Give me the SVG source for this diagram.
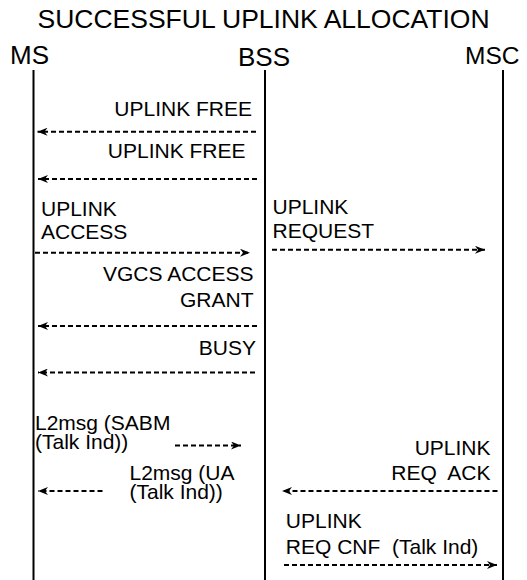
<svg xmlns="http://www.w3.org/2000/svg" width="527" height="580" viewBox="0 0 527 580">
<style>
text{font-family:"Liberation Sans",Arial,sans-serif;fill:#000;white-space:pre}
.t{font-size:26.5px}
.h{font-size:26px}
.l{font-size:21px}
.life{stroke:#000;stroke-width:2;fill:none}
.msg{stroke:#000;stroke-width:2;stroke-dasharray:5 3;fill:none;marker-end:url(#ah)}
</style>
<defs>
<marker id="ah" viewBox="0 0 10 8" refX="10" refY="4" markerWidth="10" markerHeight="8" markerUnits="userSpaceOnUse" orient="auto">
<path d="M0,0 L10,4 L0,8 L3,4 Z" fill="#000"/>
</marker>
</defs>
<rect width="527" height="580" fill="#fff"/>
<text class="t" x="263.5" y="27.5" text-anchor="middle">SUCCESSFUL UPLINK ALLOCATION</text>
<g id="node-ms">
<text class="h" x="10" y="64">MS</text>
<line class="life" x1="33.5" y1="70" x2="33.5" y2="580"/>
</g>
<g id="node-bss">
<text class="h" x="238" y="66">BSS</text>
<line class="life" x1="265" y1="70" x2="265" y2="580"/>
</g>
<g id="node-msc">
<text class="h" x="465" y="64" style="font-size:24.5px">MSC</text>
<line class="life" x1="503" y1="70" x2="503" y2="580"/>
</g>
<g id="connectors">
<line class="msg" x1="256" y1="131.7" x2="37.5" y2="131.7"/>
<line class="msg" x1="257" y1="179" x2="38" y2="179"/>
<line class="msg" x1="35" y1="252.7" x2="250" y2="252.7"/>
<line class="msg" x1="272" y1="249.8" x2="485" y2="249.8"/>
<line class="msg" x1="257" y1="326" x2="38" y2="326"/>
<line class="msg" x1="255" y1="372.5" x2="38" y2="372.5"/>
<line class="msg" x1="175" y1="445.5" x2="241" y2="445.5"/>
<line class="msg" x1="102.5" y1="491" x2="38" y2="491"/>
<line class="msg" x1="497.5" y1="491" x2="282" y2="491"/>
<line class="msg" x1="284" y1="565" x2="497" y2="565"/>
</g>
<g id="labels">
<text class="l" x="252" y="115.7" text-anchor="end">UPLINK FREE</text>
<text class="l" x="245.5" y="158.3" text-anchor="end">UPLINK FREE</text>
<text class="l" x="41" y="216">UPLINK</text>
<text class="l" x="41" y="239">ACCESS</text>
<text class="l" x="272.5" y="214.2">UPLINK</text>
<text class="l" x="272.5" y="238">REQUEST</text>
<text class="l" x="253.5" y="281.4" text-anchor="end">VGCS ACCESS</text>
<text class="l" x="253.5" y="306.6" text-anchor="end">GRANT</text>
<text class="l" x="256" y="355.4" text-anchor="end">BUSY</text>
<text class="l" x="35" y="430.4">L2msg (SABM</text>
<text class="l" x="35" y="449">(Talk Ind))</text>
<text class="l" x="129.5" y="479.8">L2msg (UA</text>
<text class="l" x="129.5" y="499.3">(Talk Ind))</text>
<text class="l" x="490.5" y="454.6" text-anchor="end">UPLINK</text>
<text class="l" x="490.5" y="479.8" text-anchor="end">REQ  ACK</text>
<text class="l" x="285.8" y="527.9">UPLINK</text>
<text class="l" x="285.8" y="554">REQ CNF  (Talk Ind)</text>
</g>
</svg>
